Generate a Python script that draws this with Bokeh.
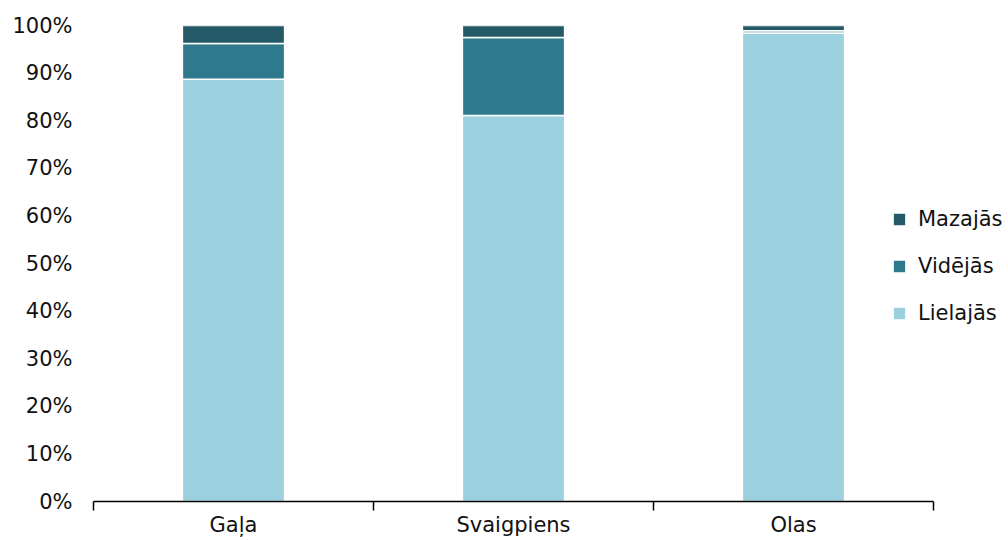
from bokeh.plotting import figure
from bokeh.models import ColumnDataSource, Range1d, FixedTicker, Legend, LegendItem
from bokeh.embed import file_html
from bokeh.resources import INLINE

categories = ["Gaļa", "Svaigpiens", "Olas"]
series_names = ["Lielajās", "Vidējās", "Mazajās"]
lielajas = [88.7, 81.1, 98.4]
videjas = [7.5, 16.4, 0.5]
mazajas = [3.8, 2.5, 1.1]
colors = ["#9BD0DF", "#2E7A8C", "#245A68"]
y_ticks = [0, 10, 20, 30, 40, 50, 60, 70, 80, 90, 100]

n = len(categories)
xs = [i + 0.5 for i in range(n)]
source = ColumnDataSource(dict(x=xs, lielajas=lielajas, videjas=videjas, mazajas=mazajas))

FONT = "DejaVu Sans"
FS = "21px"

p = figure(width=1008, height=540, output_backend="svg", toolbar_location=None,
           x_range=Range1d(0, n * 915 / 840), y_range=Range1d(0, 100),
           min_border_left=93, min_border_right=0, min_border_top=25, min_border_bottom=39)
p.outline_line_color = None
p.xgrid.visible = False
p.ygrid.visible = False
p.background_fill_color = "white"
p.border_fill_color = "white"

renderers = p.vbar_stack(["lielajas", "videjas", "mazajas"], x="x", width=0.365, source=source,
                         color=colors, line_color="white", line_width=1.5)

# x axis (limited to the category span)
p.xaxis.bounds = (0, n)
p.xaxis.ticker = FixedTicker(ticks=xs, minor_ticks=list(range(n + 1)))
p.xaxis.major_label_overrides = {x: c for x, c in zip(xs, categories)}
p.xaxis.major_tick_line_color = None
p.xaxis.major_tick_out = 9
p.xaxis.major_tick_in = 0
p.xaxis.minor_tick_out = 9
p.xaxis.minor_tick_in = 0
p.xaxis.minor_tick_line_color = "black"
p.xaxis.minor_tick_line_width = 1.5
p.xaxis.axis_line_color = "black"
p.xaxis.axis_line_width = 1.5
p.xaxis.major_label_standoff = 2
p.xaxis.major_label_text_font = FONT
p.xaxis.major_label_text_font_size = FS
p.xaxis.major_label_text_color = "#111111"

# y axis
p.yaxis.ticker = FixedTicker(ticks=y_ticks)
p.yaxis.major_label_overrides = {t: f"{t}%" for t in y_ticks}
p.yaxis.axis_line_color = None
p.yaxis.major_tick_line_color = None
p.yaxis.minor_tick_line_color = None
p.yaxis.major_tick_out = 0
p.yaxis.major_tick_in = 0
p.yaxis.major_label_standoff = 21
p.yaxis.major_label_text_font = FONT
p.yaxis.major_label_text_font_size = FS
p.yaxis.major_label_text_color = "#111111"

items = [LegendItem(label=series_names[i], renderers=[renderers[i]]) for i in (2, 1, 0)]
legend = Legend(items=items, location=(798, 176), orientation="vertical",
                glyph_width=16, glyph_height=16, label_height=24, spacing=23,
                label_standoff=11, padding=0, margin=0,
                border_line_color=None, background_fill_alpha=0,
                label_text_font=FONT, label_text_font_size=FS, label_text_color="#111111")
p.add_layout(legend, "center")

open("out.html", "w").write(file_html(p, INLINE))
